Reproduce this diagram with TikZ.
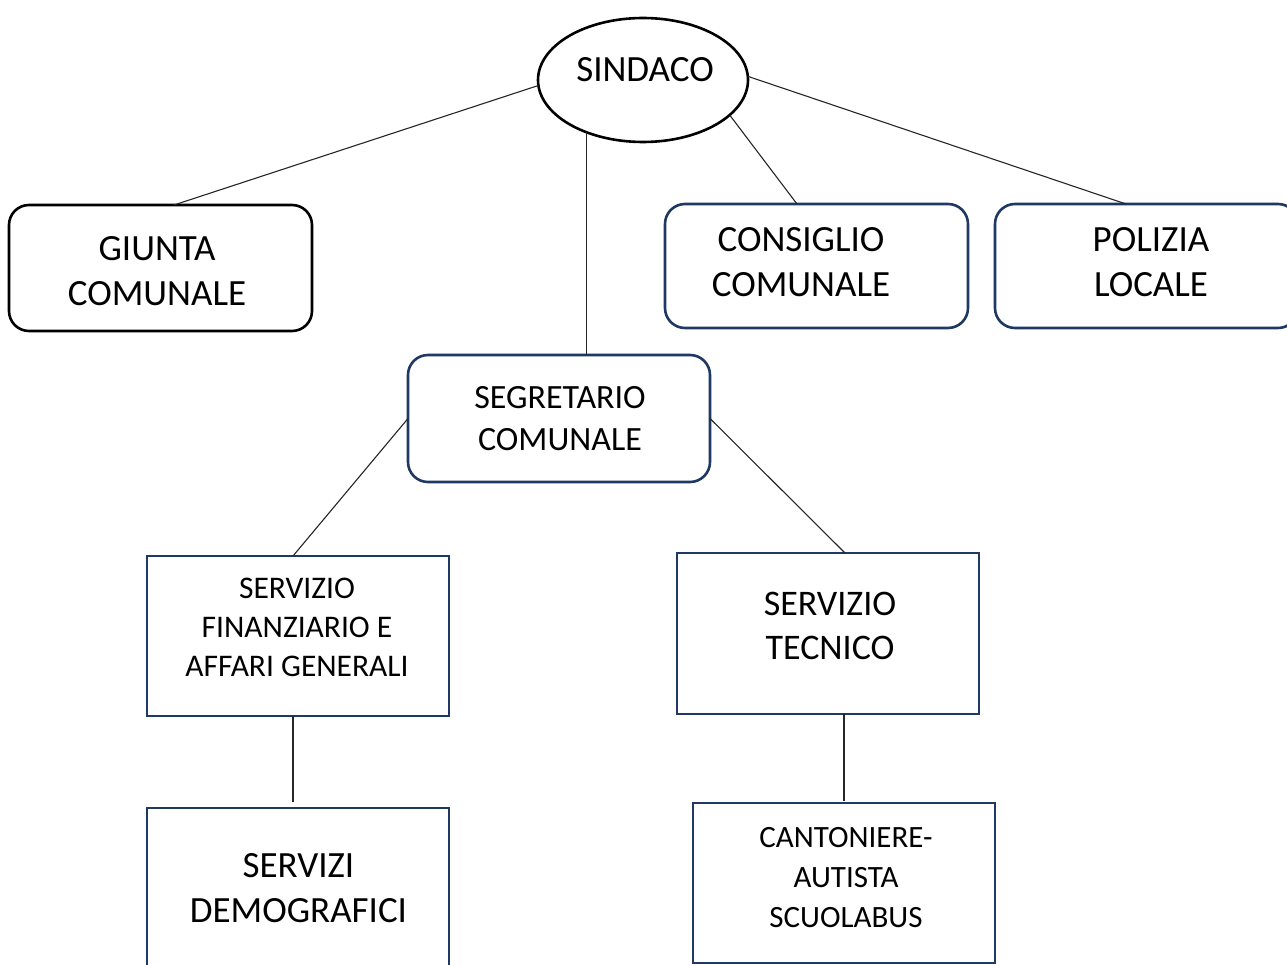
\documentclass[tikz,border=0pt]{standalone}
\usepackage{fontspec}
\setmainfont{Carlito}
\usetikzlibrary{shapes.geometric}
\definecolor{navy}{RGB}{32,56,100}
\tikzset{
  box/.style={draw=navy, line width=2.6pt, inner sep=0pt, outer sep=0pt, minimum width=302pt},
  rbox/.style={box, rounded corners=20pt},
  txt/.style={align=center, inner sep=0pt, text=black},
  big/.style={txt, font=\fontsize{37}{45}\selectfont},
  mid/.style={txt, font=\fontsize{34}{42}\selectfont},
  small/.style={txt, font=\fontsize{31.5}{39}\selectfont},
  conn/.style={draw=black!85, line width=1.1pt}
}
\begin{document}
\begin{tikzpicture}[x=1pt,y=-1pt]
\clip (0,0) rectangle (1287,965);
\fill[white] (0,0) rectangle (1287,965);
% nodes
\node[ellipse, draw=black, line width=2.6pt, minimum width=210pt, minimum height=124pt, inner sep=0pt, outer sep=0pt] (sindaco) at (643,80) {};
\node[big] (sindacot) at (645,70) {SINDACO};
\node[rbox, draw=black, minimum width=303pt, minimum height=126pt] (giunta) at (160.5,268) {};
\node[big] (giuntat) at (157,271) {GIUNTA\\COMUNALE};
\node[rbox, minimum width=303pt, minimum height=124pt] (consiglio) at (816.5,266) {};
\node[big] (consigliot) at (801,262) {CONSIGLIO\\COMUNALE};
\node[rbox, minimum width=303pt, minimum height=124pt] (polizia) at (1146.5,266) {};
\node[big] (poliziat) at (1151,262) {POLIZIA\\LOCALE};
\node[rbox, minimum height=127pt] (segretario) at (559,418.5) {};
\node[mid] (segretariot) at (560,419) {SEGRETARIO\\COMUNALE};
\node[box, minimum height=160pt] (finanziario) at (298,636) {};
\node[small] (finanziariot) at (297,627) {SERVIZIO\\FINANZIARIO E\\AFFARI GENERALI};
\node[box, minimum height=161pt] (tecnico) at (828,633.5) {};
\node[mid, font=\fontsize{36}{44}\selectfont] (tecnicot) at (830,626) {SERVIZIO\\TECNICO};
\node[box, minimum height=160pt] (demografici) at (298,888) {};
\node[big] (demograficit) at (298.5,888) {SERVIZI\\DEMOGRAFICI};
\node[box, minimum height=160pt] (cantoniere) at (844,883) {};
\node[small, font=\fontsize{31}{40}\selectfont] (cantonieret) at (846,877.5) {CANTONIERE-\\AUTISTA\\SCUOLABUS};
% connectors
\draw[conn] ([xshift=13.5pt]giunta.north) -- (sindaco.183);
\draw[conn] ([xshift=-19.5pt]consiglio.north) -- (sindaco.338);
\draw[conn] ([xshift=-20.5pt]polizia.north) -- (sindaco.2);
\draw[conn] (sindaco.223) -- (sindaco.223 |- segretario.north);
\draw[conn] (segretario.west) -- ([xshift=-5pt]finanziario.north);
\draw[conn] (segretario.east) -- ([xshift=17pt]tecnico.north);
\draw[conn, shorten >=6pt] ([xshift=-5pt]finanziario.south) -- ([xshift=-5pt]demografici.north);
\draw[conn, shorten >=2pt] (cantoniere.north |- tecnico.south) -- (cantoniere.north);
\end{tikzpicture}
\end{document}
